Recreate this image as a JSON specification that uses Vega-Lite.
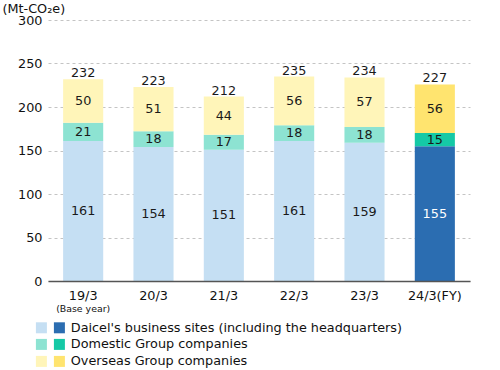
{
  "$schema": "https://vega.github.io/schema/vega-lite/v6.json",
  "width": 422,
  "height": 261,
  "autosize": {"type": "none"},
  "padding": {"left": 48, "top": 20, "right": 30, "bottom": 89},
  "background": "white",
  "config": {
    "view": {"stroke": null},
    "font": "DejaVu Sans",
    "axisY": {
      "domain": false, "ticks": false, "labelPadding": 6, "labelFontSize": 12.8, "labelColor": "#111111",
      "grid": true, "gridDash": [3, 3], "gridColor": "#c4c4c4", "gridWidth": 1,
      "values": [0, 50, 100, 150, 200, 250, 300],
      "titleAngle": 0, "titleAlign": "left", "titleBaseline": "alphabetic", "titleX": -46, "titleY": -8,
      "titleFontWeight": "normal", "titleFontSize": 12.8, "titleColor": "#111111"
    },
    "axisX": {"grid": false, "ticks": false, "title": null, "labelAngle": 0}
  },
  "datasets": {
    "segs": [
      {"fy": "19/3", "segment": "Daicel's business sites (including the headquarters)", "value": 161},
      {"fy": "19/3", "segment": "Domestic Group companies", "value": 21},
      {"fy": "19/3", "segment": "Overseas Group companies", "value": 50},
      {"fy": "20/3", "segment": "Daicel's business sites (including the headquarters)", "value": 154},
      {"fy": "20/3", "segment": "Domestic Group companies", "value": 18},
      {"fy": "20/3", "segment": "Overseas Group companies", "value": 51},
      {"fy": "21/3", "segment": "Daicel's business sites (including the headquarters)", "value": 151},
      {"fy": "21/3", "segment": "Domestic Group companies", "value": 17},
      {"fy": "21/3", "segment": "Overseas Group companies", "value": 44},
      {"fy": "22/3", "segment": "Daicel's business sites (including the headquarters)", "value": 161},
      {"fy": "22/3", "segment": "Domestic Group companies", "value": 18},
      {"fy": "22/3", "segment": "Overseas Group companies", "value": 56},
      {"fy": "23/3", "segment": "Daicel's business sites (including the headquarters)", "value": 159},
      {"fy": "23/3", "segment": "Domestic Group companies", "value": 18},
      {"fy": "23/3", "segment": "Overseas Group companies", "value": 57},
      {"fy": "24/3(FY)", "segment": "Daicel's business sites (including the headquarters)", "value": 155},
      {"fy": "24/3(FY)", "segment": "Domestic Group companies", "value": 15},
      {"fy": "24/3(FY)", "segment": "Overseas Group companies", "value": 56}
    ],
    "totals": [
      {"fy": "19/3", "total": 232},
      {"fy": "20/3", "total": 223},
      {"fy": "21/3", "total": 212},
      {"fy": "22/3", "total": 235},
      {"fy": "23/3", "total": 234},
      {"fy": "24/3(FY)", "total": 227}
    ]
  },
  "layer": [
    {
      "data": {"name": "segs"},
      "transform": [
        {"calculate": "datum.fy == '24/3(FY)' ? 'latest' : 'past'", "as": "tone"},
        {"calculate": "datum.segment + '|' + datum.tone", "as": "key"},
        {"stack": "value", "groupby": ["fy"], "sort": [{"field": "segment", "order": "ascending"}], "as": ["v0", "v1"]},
        {"calculate": "(datum.v0 + datum.v1) / 2", "as": "mid"}
      ],
      "encoding": {
        "x": {
          "field": "fy", "type": "nominal", "sort": null,
          "scale": {"paddingInner": 0.43, "paddingOuter": 0.215},
          "axis": {"orient": "bottom", "domain": true, "domainColor": "#555555", "domainWidth": 1.5, "labelPadding": 8, "labelFontSize": 12.8, "labelColor": "#111111", "zindex": 1}
        }
      },
      "layer": [
        {
          "mark": {"type": "bar"},
          "encoding": {
            "y": {"field": "v0", "type": "quantitative", "title": "(Mt-CO₂e)", "scale": {"domain": [0, 300], "nice": false}},
            "y2": {"field": "v1"},
            "color": {
              "field": "key", "type": "nominal",
              "scale": {
                "domain": [
                  "Daicel's business sites (including the headquarters)|past",
                  "Daicel's business sites (including the headquarters)|latest",
                  "Domestic Group companies|past",
                  "Domestic Group companies|latest",
                  "Overseas Group companies|past",
                  "Overseas Group companies|latest"
                ],
                "range": ["#c5dff3", "#2b6db1", "#8de3d2", "#15c9a6", "#fff5b9", "#ffe46f"]
              },
              "legend": {
                "orient": "none", "legendX": -13, "legendY": 301, "columns": 2, "direction": "horizontal", "title": null,
                "symbolType": "square", "symbolSize": 121, "symbolStrokeWidth": 0, "symbolOpacity": 1,
                "labelOffset": 5, "columnPadding": 0, "rowPadding": 3, "padding": 0,
                "labelFontSize": 12.8, "labelColor": "#111111", "labelLimit": 600,
                "labelExpr": "indexof(datum.label, '|latest') > 0 ? '\u00a0' + replace(datum.label, '|latest', '') : ''"
              }
            }
          }
        },
        {
          "mark": {"type": "text", "fontSize": 12.8},
          "encoding": {
            "y": {"field": "mid", "type": "quantitative", "title": "(Mt-CO₂e)"},
            "text": {"field": "value", "type": "quantitative"},
            "color": {
              "condition": {"test": "datum.tone == 'latest' && indexof(datum.segment, 'Daicel') == 0", "value": "#ffffff"},
              "value": "#1a1a1a"
            }
          }
        }
      ]
    },
    {
      "data": {"name": "totals"},
      "mark": {"type": "text", "baseline": "alphabetic", "dy": -2, "fontSize": 12.8, "color": "#1a1a1a"},
      "encoding": {
        "x": {
          "field": "fy", "type": "nominal", "sort": null,
          "axis": {"orient": "bottom", "domain": false, "labelPadding": 23, "labelFontSize": 9.4, "labelColor": "#111111",
                   "labelExpr": "datum.value == '19/3' ? '(Base year)' : ''"}
        },
        "y": {"field": "total", "type": "quantitative", "title": "(Mt-CO₂e)"},
        "text": {"field": "total", "type": "quantitative"}
      }
    }
  ],
  "resolve": {"axis": {"x": "independent"}}
}
